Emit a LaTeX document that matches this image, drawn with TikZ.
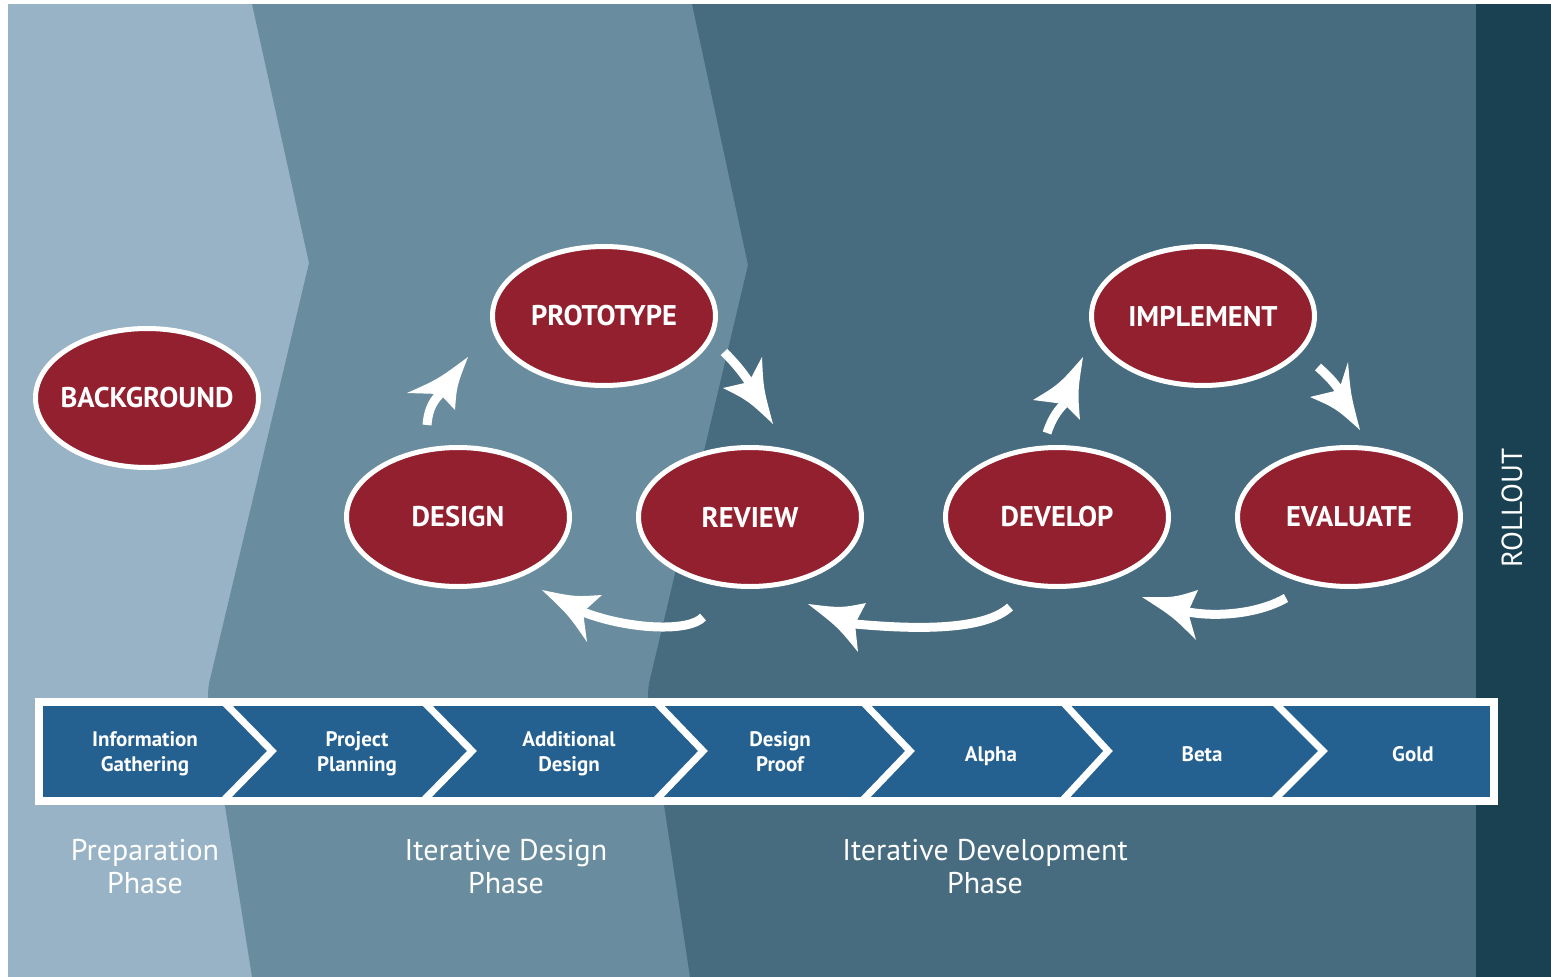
\documentclass[tikz,border=0pt]{standalone}
\usepackage{fontspec}
\setmainfont{PT Sans}
\usetikzlibrary{shapes.geometric,calc}
\definecolor{bglight}{HTML}{97B3C5}
\definecolor{bgmid}{HTML}{698D9F}
\definecolor{bgdark}{HTML}{476B7F}
\definecolor{bgroll}{HTML}{1A4152}
\definecolor{ovalred}{HTML}{93202F}
\definecolor{chevblue}{HTML}{246090}
\newcommand\myswarrow[7]{%
  \draw[arrowshaft] (#1) .. controls (#2) and (#3) .. (#6);
  \fill[white] (#4) .. controls ($(#4)!0.5!(#5)!0.22!(#6)$) .. (#5) -- (#6) -- (#7)
     .. controls ($(#4)!0.5!(#7)!0.22!(#6)$) .. (#4) -- cycle;}
\newcommand\mychevsep[2]{\draw[sepline] (#1-6,700) -- (#2,751) -- (#1-6,802);}
\begin{document}
\begin{tikzpicture}[x=1pt,y=-1pt,
  ovalnode/.style={ellipse,draw=white,line width=5pt,fill=ovalred,
     minimum width=223pt,minimum height=139pt,inner sep=0pt,
     label={[ovaltext]center:#1}},
  ovaltext/.style={text=white,inner sep=0pt,font=\fontsize{28.5}{33}\selectfont\bfseries},
  chevlabel/.style={text=white,align=center,inner sep=0pt,font=\fontsize{21}{25}\selectfont\bfseries},
  phaselabel/.style={text=white,align=center,font=\fontsize{30}{33}\selectfont},
  arrowshaft/.style={draw=white,line width=9pt},
  sepline/.style={draw=white,line width=7pt,miter limit=10}]
\useasboundingbox (0,0) rectangle (1551,977);
\fill[white] (0,0) rectangle (1551,977);
% background bands
\fill[bglight] (8,4) rectangle (1551,977);
\fill[bgmid] (252,4) -- (309,263) [rounded corners=10pt] -- (207,692) [sharp corners] -- (252,977) -- (1551,977) -- (1551,4) -- cycle;
\fill[bgdark] (692,4) -- (748,265) [rounded corners=10pt] -- (647,692) [sharp corners] -- (690,977) -- (1551,977) -- (1551,4) -- cycle;
\fill[bgroll] (1476,4) rectangle (1551,977);
% ellipses
\node[ovalnode=BACKGROUND] (background) at (147,398) {};
\node[ovalnode=PROTOTYPE] (prototype) at (604,316) {};
\node[ovalnode=DESIGN] (design) at (458,517) {};
\node[ovalnode=REVIEW] (review) at (750,517) {};
\node[ovalnode=DEVELOP] (develop) at (1057,517) {};
\node[ovalnode=IMPLEMENT] (implement) at (1203,316) {};
\node[ovalnode=EVALUATE] (evaluate) at (1349,517) {};
% arrows
\myswarrow{427,425}{428,413}{431,403}{468,357}{407,393}{440,394}{455,410}
\myswarrow{724,352}{733,361}{741,370}{773,424}{762,357}{749,382}{723,388}
\myswarrow{703,617}{690,632}{630,630}{542,590}{602,595}{583,612}{587,642}
\myswarrow{1010,607}{985,630}{920,630}{808,604}{866,603}{855,624}{858,652}
\myswarrow{1047,433}{1051,421}{1056,412}{1083,357}{1033,400}{1064,404}{1080,420}
\myswarrow{1318,367}{1327,375}{1334,382}{1360,430}{1348,362}{1339,390}{1310,397}
\myswarrow{1286,598}{1262,612}{1222,618}{1142,597}{1198,590}{1188,612}{1196,640}
% chevron bar
\fill[white] (35,698) rectangle (1498,805);
\fill[chevblue] (43,706) rectangle (1490,797);
\begin{scope}
\clip (43,706) rectangle (1490,797);
\mychevsep{228}{272}
\mychevsep{428}{472}
\mychevsep{660}{703}
\mychevsep{867}{910}
\mychevsep{1067}{1108}
\mychevsep{1278}{1323}
\end{scope}
\node[chevlabel] (info) at (145,754) {\strut Information\\\strut Gathering};
\node[chevlabel] (plan) at (357,754) {\strut Project\\\strut Planning};
\node[chevlabel] (adddesign) at (569,754) {\strut Additional\\\strut Design};
\node[chevlabel] (proof) at (780,754) {\strut Design\\\strut Proof};
\node[chevlabel] (alpha) at (991,756) {\strut Alpha};
\node[chevlabel] (beta) at (1202,756) {\strut Beta};
\node[chevlabel] (gold) at (1413,756) {\strut Gold};
% phase labels
\node[phaselabel] (prep) at (145,867) {Preparation\\Phase};
\node[phaselabel] (itdesign) at (506,867) {Iterative Design\\Phase};
\node[phaselabel] (itdev) at (985,867) {Iterative Development\\Phase};
\node[text=white,rotate=90,font=\fontsize{29}{30}\selectfont] (rollout) at (1512,508) {ROLLOUT};
\end{tikzpicture}
\end{document}
